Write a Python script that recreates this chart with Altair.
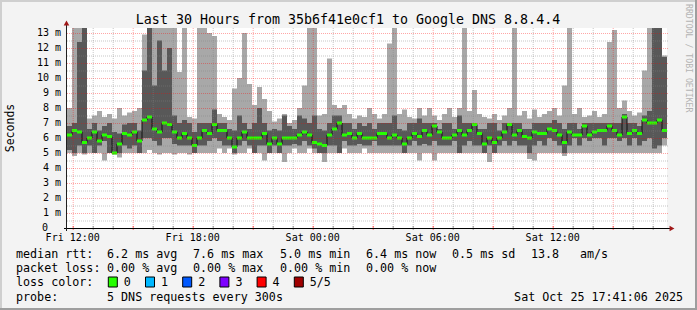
import altair as alt
import pandas as pd

MONO = "DejaVu Sans Mono"

TITLE = "Last 30 Hours from 35b6f41e0cf1 to Google DNS 8.8.4.4"
Y_TITLE = "Seconds"
WATERMARK = "RRDTOOL / TOBI OETIKER"

START_H = 11.715      # Fri 11:43 (hours since Fri 00:00)
STEP_H = 0.25         # one consolidated step = 15 min
SPAN_H = 30.0
Y_TOP = 40 / 3        # upper limit of the graph (ms)

# ---- RTT of the 5 sorted DNS requests per step (ms) ----
ping_min = [
    5.0, 4.8, 5.0, 4.9, 5.0, 5.0, 5.0, 4.5, 5.0, 4.9, 4.7, 5.0, 5.0, 5.0, 5.0, 5.0, 5.2, 5.0, 4.9, 5.0, 5.0, 4.9, 5.0, 5.0,
    4.9, 5.0, 5.0, 5.0, 5.0, 5.0, 5.3, 5.0, 5.3, 4.9, 5.0, 5.0, 5.3, 5.0, 5.0, 4.5, 5.0, 5.0, 5.0, 4.4, 5.0, 5.3, 5.0, 5.0,
    5.3, 5.0, 5.0, 4.4, 5.0, 5.0, 5.0, 5.3, 5.0, 5.0, 5.0, 5.3, 5.0, 5.0, 5.0, 5.0, 5.0, 5.0, 5.0, 5.0, 5.0, 5.0, 4.5, 5.0,
    5.0, 4.5, 5.0, 5.0, 5.0, 5.0, 5.0, 5.0, 5.0, 5.0, 5.0, 5.0, 4.4, 5.0, 5.0, 5.0, 5.0, 5.0, 5.0, 5.0, 4.6, 4.5, 5.0, 5.0,
    5.0, 5.0, 5.0, 4.8, 5.0, 5.0, 5.0, 5.0, 5.0, 5.0, 5.0, 5.0, 5.0, 5.0, 5.0, 5.0, 5.0, 5.0, 5.0, 5.0, 5.0, 5.0, 5.0, 5.5,
]
ping_lo = [
    5.2, 5.0, 5.5, 5.0, 5.5, 5.0, 5.5, 5.8, 5.0, 5.0, 5.0, 5.5, 5.3, 5.5, 5.0, 6.0, 6.0, 5.8, 5.5, 6.0, 6.0, 5.6, 5.5, 5.5,
    5.5, 5.0, 5.5, 5.5, 5.8, 6.0, 5.8, 5.5, 5.5, 5.0, 5.5, 5.8, 5.5, 5.0, 5.5, 5.5, 5.0, 5.5, 5.0, 5.5, 5.5, 5.6, 5.5, 5.8,
    5.5, 5.3, 5.0, 5.0, 5.5, 5.5, 5.0, 5.8, 5.5, 5.5, 5.6, 5.5, 5.5, 5.8, 5.5, 5.5, 5.5, 5.5, 5.5, 5.0, 5.5, 5.8, 5.5, 5.6,
    5.5, 5.8, 5.5, 5.5, 5.5, 5.8, 5.0, 5.5, 5.8, 5.5, 5.5, 5.0, 5.5, 5.0, 5.5, 5.8, 5.5, 5.8, 5.5, 5.5, 5.0, 5.5, 5.8, 5.5,
    6.0, 5.8, 5.5, 5.0, 5.5, 6.0, 5.5, 6.0, 5.8, 6.0, 6.0, 5.5, 6.0, 6.0, 5.8, 6.0, 5.5, 6.0, 5.5, 5.8, 6.0, 5.3, 5.5, 6.0,
]
ping_med = [
    6.2, 6.5, 6.4, 5.7, 6.0, 6.4, 5.8, 6.2, 6.1, 5.0, 5.6, 6.3, 6.2, 6.4, 5.8, 7.2, 7.4, 6.6, 6.4, 7.0, 6.9, 6.4, 6.0, 6.3,
    6.0, 5.5, 6.0, 6.5, 6.3, 6.9, 6.5, 6.5, 6.0, 5.4, 6.0, 6.4, 6.0, 6.0, 6.0, 6.3, 5.6, 6.0, 5.6, 6.0, 6.0, 6.0, 6.2, 6.4,
    6.2, 5.7, 5.6, 5.5, 6.2, 6.6, 7.0, 6.2, 6.3, 6.0, 6.3, 6.0, 6.0, 6.0, 6.3, 6.3, 6.0, 6.2, 6.0, 5.6, 6.0, 6.3, 6.1, 6.5,
    6.2, 6.8, 6.4, 6.0, 6.0, 6.2, 6.5, 6.2, 6.5, 6.9, 6.3, 5.6, 6.0, 5.7, 6.0, 6.4, 6.9, 6.2, 6.5, 6.1, 6.0, 6.4, 6.3, 6.3,
    6.6, 6.5, 6.2, 5.7, 6.4, 6.2, 6.2, 6.8, 6.2, 6.4, 6.5, 6.5, 6.8, 6.5, 6.2, 7.4, 6.3, 6.5, 6.3, 7.2, 7.0, 7.0, 7.2, 6.5,
]
ping_hi = [
    6.8, 7.0, 12.4, 13.4, 6.6, 7.0, 6.5, 6.8, 7.0, 6.4, 6.3, 6.9, 7.0, 7.0, 6.5, 10.5, 13.4, 9.5, 12.5, 10.5, 12.0, 7.5, 7.0, 7.2,
    7.0, 6.4, 7.0, 7.0, 7.0, 7.9, 7.0, 7.0, 6.6, 6.5, 7.5, 7.0, 6.6, 7.0, 8.0, 7.0, 6.5, 6.6, 6.5, 7.5, 6.8, 6.6, 7.5, 7.3,
    7.0, 7.5, 6.6, 6.5, 7.0, 7.5, 7.5, 7.0, 7.0, 6.6, 7.0, 6.8, 7.0, 6.6, 7.0, 7.0, 7.0, 7.5, 6.6, 6.5, 7.0, 7.0, 7.3, 7.0,
    7.0, 7.0, 6.6, 7.0, 7.0, 6.6, 7.5, 7.0, 7.0, 7.0, 6.6, 6.6, 7.0, 7.0, 6.5, 7.0, 7.0, 7.0, 7.0, 6.6, 6.6, 7.0, 7.0, 7.0,
    7.0, 7.2, 7.0, 6.6, 7.0, 7.0, 6.6, 7.0, 7.0, 7.0, 7.0, 7.0, 7.0, 7.0, 7.0, 7.6, 7.0, 7.0, 6.8, 7.5, 7.8, 13.4, 13.4, 11.4,
]
ping_max = [
    8.0, 13.4, 13.4, 13.4, 7.3, 7.5, 7.8, 7.4, 7.6, 7.3, 8.0, 7.5, 7.7, 7.8, 8.0, 12.9, 13.4, 13.4, 13.4, 13.4, 13.4, 13.4, 10.4, 13.4,
    7.4, 7.3, 13.4, 13.4, 13.0, 12.8, 7.6, 7.4, 7.2, 9.3, 10.0, 13.0, 9.6, 8.2, 9.4, 8.6, 7.8, 7.1, 7.3, 7.6, 7.0, 7.2, 8.0, 9.5,
    13.4, 13.4, 7.5, 7.6, 11.3, 8.2, 8.0, 8.2, 7.6, 7.3, 7.5, 7.4, 8.0, 7.6, 7.3, 7.6, 12.3, 13.4, 7.6, 7.9, 7.4, 7.3, 8.0, 7.5,
    8.0, 7.5, 7.2, 7.6, 8.0, 7.4, 8.0, 13.4, 7.8, 9.2, 7.6, 7.4, 7.3, 7.6, 7.2, 7.5, 8.0, 13.4, 7.5, 7.8, 7.3, 7.9, 7.4, 7.6,
    7.8, 8.0, 7.5, 9.5, 13.4, 7.6, 8.0, 7.4, 7.5, 7.8, 7.4, 7.6, 12.4, 13.2, 8.0, 8.5, 7.8, 7.5, 7.7, 10.5, 13.4, 13.4, 13.4, 11.5,
]

# ---- axes ----
x_tick_hours = [12, 18, 24, 30, 36]
x_tick_labels = ["Fri 12:00", "Fri 18:00", "Sat 00:00", "Sat 06:00", "Sat 12:00"]
y_tick_values = list(range(1, 14))
y_tick_labels = [f"{v} m" for v in y_tick_values]
y_zero_label = "0"

# ---- legend ----
rtt_label = "median rtt:"
rtt_stats = ["6.2 ms avg", "7.6 ms max", "5.0 ms min", "6.4 ms now", "0.5 ms sd", "13.8", "am/s"]
loss_label = "packet loss:"
loss_stats = ["0.00 % avg", "0.00 % max", "0.00 % min", "0.00 % now"]
color_label = "loss color:"
loss_levels = ["0", "1", "2", "3", "4", "5/5"]
loss_colors = ["#26ff00", "#00b8ff", "#0059ff", "#7e00ff", "#ff0000", "#a00000"]
probe_label = "probe:"
probe_text = "5 DNS requests every 300s"
stamp_text = "Sat Oct 25 17:41:06 2025"

W, H = 600, 200
n = len(ping_med)
df = pd.DataFrame({
    "t0": [START_H + STEP_H * i for i in range(n)],
    "t1": [START_H + STEP_H * (i + 1) for i in range(n)],
    "mn": ping_min, "lo": ping_lo, "med": ping_med, "hi": ping_hi, "mx": ping_max,
})

xs = alt.Scale(domain=[START_H, START_H + SPAN_H], nice=False, zero=False)
ys = alt.Scale(domain=[0, Y_TOP], nice=False, zero=True)

ONE = pd.DataFrame({"k": [0]})

outer = alt.Chart(df).mark_rect(color="#a8a8a8", clip=True).encode(
    x=alt.X("t0:Q", scale=xs, axis=None), x2="t1:Q",
    y=alt.Y("mn:Q", scale=ys, axis=None), y2="mx:Q")
inner = alt.Chart(df).mark_rect(color="#585858", clip=True).encode(
    x=alt.X("t0:Q", scale=xs, axis=None), x2="t1:Q",
    y=alt.Y("lo:Q", scale=ys, axis=None), y2="hi:Q")
med_line = alt.Chart(df).mark_line(interpolate="step-after", color="#111111",
                                   strokeWidth=1, clip=True).encode(
    x=alt.X("t0:Q", scale=xs, axis=None), y=alt.Y("med:Q", scale=ys, axis=None))
med_box = alt.Chart(df).transform_calculate(
    m0="datum.med - 0.1", m1="datum.med + 0.1"
).mark_rect(color="#26ff00", clip=True).encode(
    x=alt.X("t0:Q", scale=xs, axis=None), x2="t1:Q",
    y=alt.Y("m0:Q", scale=ys, axis=None), y2="m1:Q")

h_minor = pd.DataFrame({"v": [k / 2 for k in range(1, 27) if k % 2]})
h_major = pd.DataFrame({"v": [k for k in range(1, 14)]})
v_minor = pd.DataFrame({"v": [h for h in range(12, 42) if h % 3]})
v_major = pd.DataFrame({"v": [h for h in range(12, 42, 3)]})


def hgrid(d, color, op):
    return alt.Chart(d).mark_rule(color=color, opacity=op, strokeDash=[1, 1], strokeWidth=1,
                                  yOffset=0.5).encode(
        y=alt.Y("v:Q", scale=ys, axis=None), x=alt.value(0), x2=alt.value(W + 1))


def vgrid(d, color, op):
    return alt.Chart(d).mark_rule(color=color, opacity=op, strokeDash=[1, 1], strokeWidth=1,
                                  xOffset=0.5).encode(
        x=alt.X("v:Q", scale=xs, axis=None), y=alt.value(0), y2=alt.value(H))


def xtick(d, color, op, y0):
    return alt.Chart(d).mark_rule(color=color, opacity=op, strokeWidth=1, xOffset=0.5).encode(
        x=alt.X("v:Q", scale=xs, axis=None), y=alt.value(y0), y2=alt.value(H + 2))


grids = [hgrid(h_minor, "#808080", 0.45), hgrid(h_major, "#ff0000", 0.35),
         vgrid(v_minor, "#808080", 0.45), vgrid(v_major, "#ff0000", 0.35),
         xtick(v_minor, "#808080", 0.8, H - 2), xtick(v_major, "#ff0000", 0.6, H - 2)]

x_axis_line = alt.Chart(ONE).mark_rule(color="#000", strokeWidth=1, yOffset=0.5).encode(
    x=alt.value(-3), x2=alt.value(W + 3), y=alt.value(H))
y_axis_line = alt.Chart(ONE).mark_rule(color="#202020", strokeWidth=1, xOffset=-0.5).encode(
    y=alt.value(-4), y2=alt.value(H + 3), x=alt.value(0))
arrow_up = alt.Chart(ONE).mark_point(shape="triangle-up", filled=True, size=32,
                                     color="#a01818", opacity=1).encode(
    x=alt.value(-0.5), y=alt.value(-5))
arrow_right = alt.Chart(ONE).mark_point(shape="triangle-right", filled=True, size=32,
                                        color="#a01818", opacity=1).encode(
    x=alt.value(W + 5), y=alt.value(H + 0.5))

# axis labels (drawn through the same scales)
x_lab_df = pd.DataFrame({"v": x_tick_hours, "lab": x_tick_labels})
y_lab_df = pd.DataFrame({"v": y_tick_values, "lab": y_tick_labels})
y_zero_df = pd.DataFrame({"v": [0], "lab": [y_zero_label]})
x_labels = alt.Chart(x_lab_df).mark_text(font=MONO, fontSize=10, color="#000",
                                         align="center", baseline="top").encode(
    x=alt.X("v:Q", scale=xs, axis=None), y=alt.value(H + 5), text="lab:N")
y_labels = alt.Chart(y_lab_df).mark_text(font=MONO, fontSize=10, color="#000",
                                         align="right", baseline="middle").encode(
    y=alt.Y("v:Q", scale=ys, axis=None), x=alt.value(-6), text="lab:N")
y_zero = alt.Chart(y_zero_df).mark_text(font=MONO, fontSize=10, color="#000",
                                        align="right", baseline="middle").encode(
    y=alt.Y("v:Q", scale=ys, axis=None), x=alt.value(-19), text="lab:N")


def txt(s, x, y, size=11.7, align="left", baseline="middle", color="#000", angle=None):
    kw = dict(text=s, font=MONO, fontSize=size, align=align, baseline=baseline, color=color)
    if angle is not None:
        kw["angle"] = angle
    return alt.Chart(ONE).mark_text(**kw).encode(x=alt.value(x), y=alt.value(y))


texts = [
    txt(TITLE, 281, -4, size=13.3, align="center", baseline="alphabetic"),
    txt(Y_TITLE, -56, 100, size=11.5, align="center", angle=270),
    txt(WATERMARK, 621, -24, size=8.2, align="left", color="#b4b4b4", angle=90),
]

ROW = [226, 240, 254, 269]
LX = -51
rtt_x = [40, 126, 213, 299, 385, 464, 513]
texts.append(txt(rtt_label, LX, ROW[0]))
for s, xx in zip(rtt_stats, rtt_x):
    texts.append(txt(s, xx, ROW[0]))
texts.append(txt(loss_label, LX, ROW[1]))
for s, xx in zip(loss_stats, rtt_x):
    texts.append(txt(s, xx, ROW[1]))
texts.append(txt(color_label, LX, ROW[2]))
swatches = []
for k, (lab, col) in enumerate(zip(loss_levels, loss_colors)):
    bx = 45.8 + 37.2 * k
    swatches.append(alt.Chart(ONE).mark_rect(color=col, stroke="#000", strokeWidth=1).encode(
        x=alt.value(bx - 4.5), x2=alt.value(bx + 4.5),
        y=alt.value(ROW[2] - 5), y2=alt.value(ROW[2] + 5)))
    texts.append(txt(lab, bx + 11, ROW[2]))
texts.append(txt(probe_label, LX, ROW[3]))
texts.append(txt(probe_text, 40, ROW[3]))
texts.append(txt(stamp_text, 616, ROW[3], align="right"))

# rrdtool-style frame shading
frame = [
    alt.Chart(ONE).mark_rule(color="#cfcfcf", strokeWidth=2).encode(
        x=alt.value(-67), x2=alt.value(630), y=alt.value(-27)),
    alt.Chart(ONE).mark_rule(color="#cfcfcf", strokeWidth=2).encode(
        x=alt.value(-66), y=alt.value(-28), y2=alt.value(282)),
    alt.Chart(ONE).mark_rule(color="#9e9e9e", strokeWidth=2).encode(
        x=alt.value(-67), x2=alt.value(630), y=alt.value(281)),
    alt.Chart(ONE).mark_rule(color="#9e9e9e", strokeWidth=2).encode(
        x=alt.value(629), y=alt.value(-28), y2=alt.value(282)),
]

chart = alt.layer(
    outer, inner, med_line, med_box, *grids,
    x_axis_line, y_axis_line, arrow_up, arrow_right,
    x_labels, y_labels, y_zero,
    *swatches, *texts, *frame,
).properties(
    width=W, height=H,
    padding={"left": 67, "top": 28, "right": 30, "bottom": 82},
    autosize=alt.AutoSizeParams(type="none"),
).configure(
    background="#f3f3f3",
).configure_view(
    fill="#ffffff", stroke=None,
)

chart.save("out.html", embed_options={"renderer": "svg", "actions": False})
